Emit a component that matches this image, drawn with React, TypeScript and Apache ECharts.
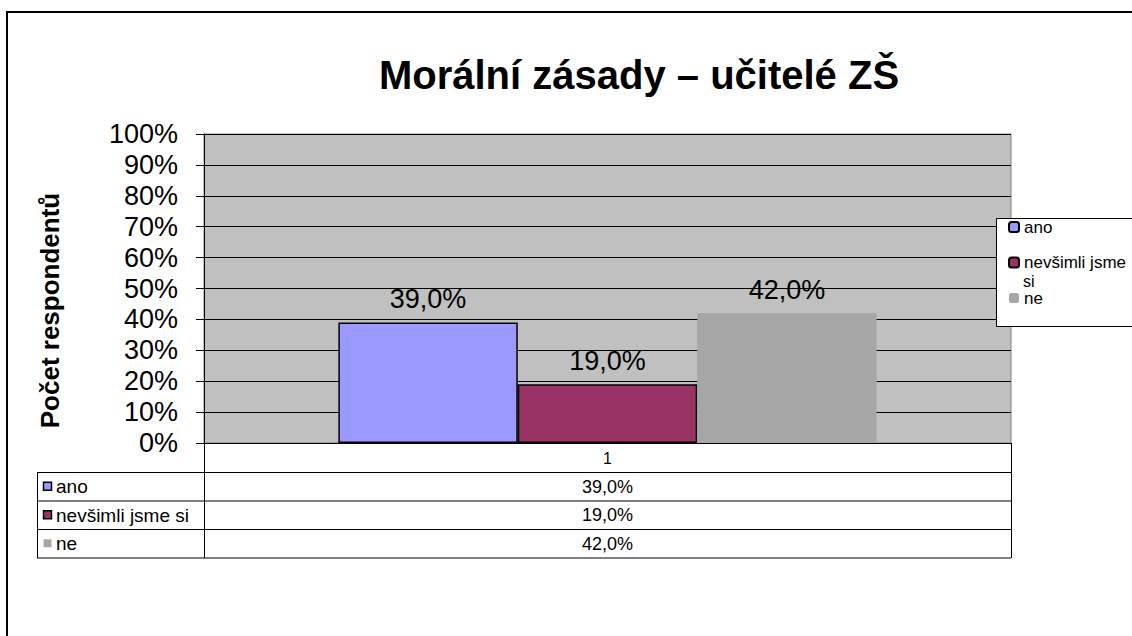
import React, { useEffect, useRef } from "react";
import * as echarts from "echarts";

const categories = ["1"];
const seriesNames = ["ano", "nevšimli jsme si", "ne"];
const anoValues = [39.0];
const nevsimliValues = [19.0];
const neValues = [42.0];
const seriesValues = [anoValues, nevsimliValues, neValues];
const seriesColors = ["#9999FF", "#993366", "#A6A6A6"];
const seriesBorders = ["#000000", "#000000", "transparent"];
const yTicks = { min: 0, max: 100, interval: 10 };

const FONT = 'Arial, "Liberation Sans", sans-serif';
const fmt = (v: number) => v.toFixed(1).replace(".", ",") + "%";

export default function App() {
  const ref = useRef<HTMLDivElement>(null);

  useEffect(() => {
    document.body.style.margin = "0";
    const chart = echarts.init(ref.current!, null, { renderer: "svg" });

    // plot geometry
    const gl = 204, gt = 134, gw = 807, gh = 309;
    const gr = gl + gw, gb = gt + gh;
    const tableLeft = 37;
    const rowH = 28.5;
    const headerBottom = gb + 29;
    const tableBottom = headerBottom + rowH * seriesNames.length;

    const graphics: any[] = [];
    // outer chart border
    graphics.push({
      type: "rect",
      shape: { x: 7, y: 12, width: 1200, height: 700 },
      style: { fill: "none", stroke: "#000", lineWidth: 2 },
      z: 0,
    });
    // legend box
    graphics.push({
      type: "rect",
      shape: { x: 996.5, y: 218.5, width: 200, height: 108 },
      style: { fill: "#fff", stroke: "#000", lineWidth: 1 },
      z: 1,
    });
    graphics.push({
      type: "text",
      x: 1023,
      y: 281,
      style: { text: "si", font: `16px ${FONT}`, fill: "#000", verticalAlign: "middle" },
      z: 5,
    });
    // data table lines
    const hl = (y: number, x1: number, x2: number) => ({
      type: "line",
      shape: { x1, y1: y, x2, y2: y },
      style: { stroke: "#000", lineWidth: 1 },
      z: 3,
    });
    const vl = (x: number, y1: number, y2: number) => ({
      type: "line",
      shape: { x1: x, y1, x2: x, y2 },
      style: { stroke: "#000", lineWidth: 1 },
      z: 3,
    });
    for (let i = 0; i <= seriesNames.length; i++) {
      graphics.push(hl(headerBottom + 0.5 + rowH * i, tableLeft, gr));
    }
    graphics.push(vl(tableLeft + 0.5, headerBottom, tableBottom + 0.5));
    graphics.push(vl(gl + 0.5, gb, tableBottom + 0.5));
    graphics.push(vl(gr + 0.5, gb, tableBottom + 0.5));
    seriesNames.forEach((name, i) => {
      const cy = headerBottom + rowH * i + rowH / 2 + 0.5;
      graphics.push({
        type: "rect",
        shape: { x: 43.5, y: cy - 4.5, width: 8, height: 8 },
        style: {
          fill: seriesColors[i],
          stroke: seriesBorders[i] === "transparent" ? seriesColors[i] : seriesBorders[i],
          lineWidth: seriesBorders[i] === "transparent" ? 0 : 1.5,
        },
        z: 4,
      });
      graphics.push({
        type: "text",
        x: 56,
        y: cy,
        style: { text: name, font: `19px ${FONT}`, fill: "#000", verticalAlign: "middle" },
        z: 4,
      });
      graphics.push({
        type: "text",
        x: gl + gw / 2,
        y: cy,
        style: {
          text: fmt(seriesValues[i][0]),
          font: `18px ${FONT}`,
          fill: "#000",
          align: "center",
          verticalAlign: "middle",
        },
        z: 4,
      });
    });

    chart.setOption({
      animation: false,
      backgroundColor: "#fff",
      title: {
        text: "Morální zásady – učitelé ZŠ",
        left: 634,
        top: 50,
        textAlign: "center",
        textStyle: { fontFamily: FONT, fontWeight: "bold", fontSize: 40, color: "#000" },
      },
      legend: {
        orient: "vertical",
        left: 1008,
        top: 218,
        padding: 0,
        itemWidth: 10,
        itemHeight: 10,
        itemGap: 17.5,
        data: seriesNames,
        formatter: (n: string) => (n === "nevšimli jsme si" ? "nevšimli jsme" : n),
        textStyle: { fontFamily: FONT, fontSize: 17, color: "#000", lineHeight: 18 },
        z: 5,
      },
      grid: {
        left: gl,
        top: gt,
        width: gw,
        height: gh,
        show: true,
        backgroundColor: "#C0C0C0",
        borderColor: "#808080",
        borderWidth: 1,
      },
      xAxis: {
        type: "category",
        data: categories,
        axisLine: { show: true, lineStyle: { color: "#000", width: 1 } },
        axisTick: { show: false },
        axisLabel: { fontFamily: FONT, fontSize: 16, color: "#000", margin: 7 },
        splitLine: { show: false },
      },
      yAxis: {
        type: "value",
        min: yTicks.min,
        max: yTicks.max,
        interval: yTicks.interval,
        name: "Počet respondentů",
        nameLocation: "middle",
        nameGap: 141,
        nameTextStyle: {
          fontFamily: FONT,
          fontWeight: "bold",
          fontSize: 26,
          color: "#000",
          padding: [0, 44, 0, 0],
        },
        axisLine: { show: true, lineStyle: { color: "#000", width: 1 } },
        axisTick: { show: true, length: 8, inside: false, lineStyle: { color: "#000" } },
        axisLabel: {
          fontFamily: FONT,
          fontSize: 27,
          color: "#000",
          margin: 26,
          formatter: "{value}%",
        },
        splitLine: { show: true, lineStyle: { color: "#000", width: 1 } },
      },
      series: seriesNames.map((name, i) => ({
        name,
        type: "bar",
        data: seriesValues[i],
        barGap: "0%",
        barCategoryGap: "33.3%",
        itemStyle: {
          color: seriesColors[i],
          borderColor: seriesBorders[i],
          borderWidth: seriesBorders[i] === "transparent" ? 0 : 1.5,
        },
        label: {
          show: true,
          position: "top",
          distance: 10,
          fontFamily: FONT,
          fontSize: 27,
          color: "#000",
          formatter: (p: any) => fmt(p.value),
        },
      })),
      graphic: graphics,
    });

    return () => chart.dispose();
  }, []);

  return <div ref={ref} style={{ width: 1132, height: 636 }} />;
}
